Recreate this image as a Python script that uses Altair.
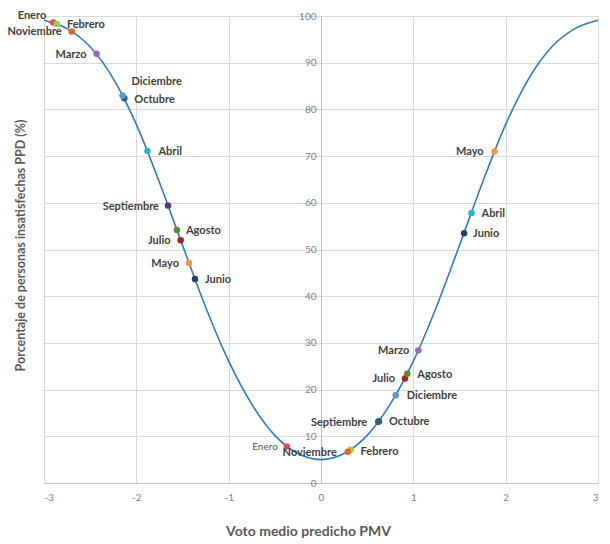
import altair as alt
import pandas as pd

# PPD curve (Fanger), sampled along the PMV axis
curve_pmv = [-3.0, -2.75, -2.5, -2.25, -2.0, -1.75, -1.5, -1.25, -1.0, -0.75, -0.5, -0.25,
             0.0, 0.25, 0.5, 0.75, 1.0, 1.25, 1.5, 1.75, 2.0, 2.25, 2.5, 2.75, 3.0]
curve_ppd = [99.1, 97.3, 93.4, 86.6, 76.8, 64.4, 50.9, 37.7, 26.1, 16.9, 10.2, 6.3,
             5.0, 6.3, 10.2, 16.9, 26.1, 37.7, 50.9, 64.4, 76.8, 86.6, 93.4, 97.3, 99.1]

months = ["Enero", "Febrero", "Marzo", "Abril", "Mayo", "Junio", "Julio",
          "Agosto", "Septiembre", "Octubre", "Noviembre", "Diciembre"]
month_colors = ["#E8474C", "#92D050", "#9A62C6", "#21B6D4", "#F79646", "#1F3F6E",
                "#A32224", "#5A8A2C", "#5B3B73", "#1D6778", "#E2680F", "#5B9BD5"]

# monthly points, first set (cold side)
cold_pmv = [-2.90, -2.86, -2.43, -1.88, -1.43, -1.365, -1.52, -1.56, -1.657, -2.13, -2.70, -2.15]
cold_ppd = [98.6, 98.3, 91.9, 71.1, 47.1, 43.7, 52.0, 54.2, 59.4, 82.4, 96.7, 83.0]

# monthly points, second set (warm side)
warm_pmv = [-0.37, 0.32, 1.054, 1.63, 1.88, 1.55, 0.91, 0.935, 0.62, 0.628, 0.29, 0.81]
warm_ppd = [7.8, 7.1, 28.4, 57.8, 71.0, 53.5, 22.4, 23.4, 13.1, 13.2, 6.7, 18.8]

# label placement: (align, dx, dy)
cold_layout = {
    "Enero": ("right", -7, -7), "Febrero": ("left", 10, 1), "Marzo": ("right", -10, 1),
    "Abril": ("left", 11, 1), "Mayo": ("right", -10, 1), "Junio": ("left", 10, 1),
    "Julio": ("right", -10, 1), "Agosto": ("left", 9, 1), "Septiembre": ("right", -9, 1),
    "Octubre": ("left", 10, 2), "Noviembre": ("right", -10, 1), "Diciembre": ("left", 9, -13),
}
warm_layout = {
    "Enero": ("right", -9, 0), "Febrero": ("left", 10, 2), "Marzo": ("right", -9, 1),
    "Abril": ("left", 10, 1), "Mayo": ("right", -11, 1), "Junio": ("left", 9, 1),
    "Julio": ("right", -10, 1), "Agosto": ("left", 10, 1), "Septiembre": ("right", -11, 1),
    "Octubre": ("left", 10, 1), "Noviembre": ("right", -11, 1), "Diciembre": ("left", 11, 1),
}

W, H = 554, 467
FONT = "Lato"

curve_df = pd.DataFrame({"pmv": curve_pmv, "ppd": curve_ppd})
points_df = pd.DataFrame({
    "month": months + months,
    "pmv": cold_pmv + warm_pmv,
    "ppd": cold_ppd + warm_ppd,
    "set": ["cold"] * 12 + ["warm"] * 12,
})

x_scale = alt.Scale(domain=[-3, 3], nice=False, zero=False)
y_scale = alt.Scale(domain=[0, 100], nice=False)

x_axis = alt.Axis(
    values=[-3, -2, -1, 0, 1, 2, 3], labelExpr="'' + datum.value",
    grid=True, gridColor="#d9d9d9", gridWidth=1,
    domainColor="#bfbfbf", ticks=False,
    labelColor="#7f7f7f", labelFontSize=10, labelPadding=9, labelFont=FONT,
    title="Voto medio predicho PMV", titleFont=FONT, titleFontSize=14,
    titleFontWeight="bold", titleColor="#595959",
    titleBaseline="middle", titleY=48, titleX=W / 2 - 13,
)
y_axis = alt.Axis(
    orient="left", offset=-W / 2,
    values=list(range(0, 101, 10)),
    grid=True, gridColor="#d9d9d9", gridWidth=1,
    domainColor="#bfbfbf", ticks=False,
    labelColor="#7f7f7f", labelFontSize=10, labelPadding=5, labelFont=FONT,
    title="Porcentaje de personas insatisfechas PPD (%)", titleFont=FONT,
    titleFontSize=12.5, titleFontWeight="bold", titleColor="#595959",
    titleAngle=270, titleBaseline="middle", titleX=-W / 2 - 24, titleY=229,
)

curve = alt.Chart(curve_df).mark_line(
    color="#2E7BC4", strokeWidth=1.6, interpolate="monotone"
).encode(
    x=alt.X("pmv:Q", scale=x_scale, axis=x_axis),
    y=alt.Y("ppd:Q", scale=y_scale, axis=y_axis),
)

points = alt.Chart(points_df).mark_circle(size=42, opacity=1).encode(
    x=alt.X("pmv:Q", scale=x_scale),
    y=alt.Y("ppd:Q", scale=y_scale),
    color=alt.Color("month:N", scale=alt.Scale(domain=months, range=month_colors), legend=None),
)

label_layers = []
for set_name, layout in (("cold", cold_layout), ("warm", warm_layout)):
    for m in months:
        align, dx, dy = layout[m]
        faint = set_name == "warm" and m == "Enero"
        row = points_df[(points_df["set"] == set_name) & (points_df["month"] == m)]
        label_layers.append(
            alt.Chart(row).mark_text(
                align=align, baseline="middle", dx=dx, dy=dy, font=FONT,
                fontSize=10 if faint else 11,
                fontWeight="normal" if faint else "bold",
                color="#595959" if faint else "#404040",
            ).encode(
                x=alt.X("pmv:Q", scale=x_scale),
                y=alt.Y("ppd:Q", scale=y_scale),
                text="month:N",
            )
        )

chart = alt.layer(curve, points, *label_layers).properties(
    width=W, height=H,
    autosize=alt.AutoSizeParams(type="none"),
    padding={"left": 44, "top": 16, "right": 12, "bottom": 61},
).configure_view(stroke=None).configure(font=FONT)

chart.save("out.html", embed_options={"renderer": "svg", "actions": False})
